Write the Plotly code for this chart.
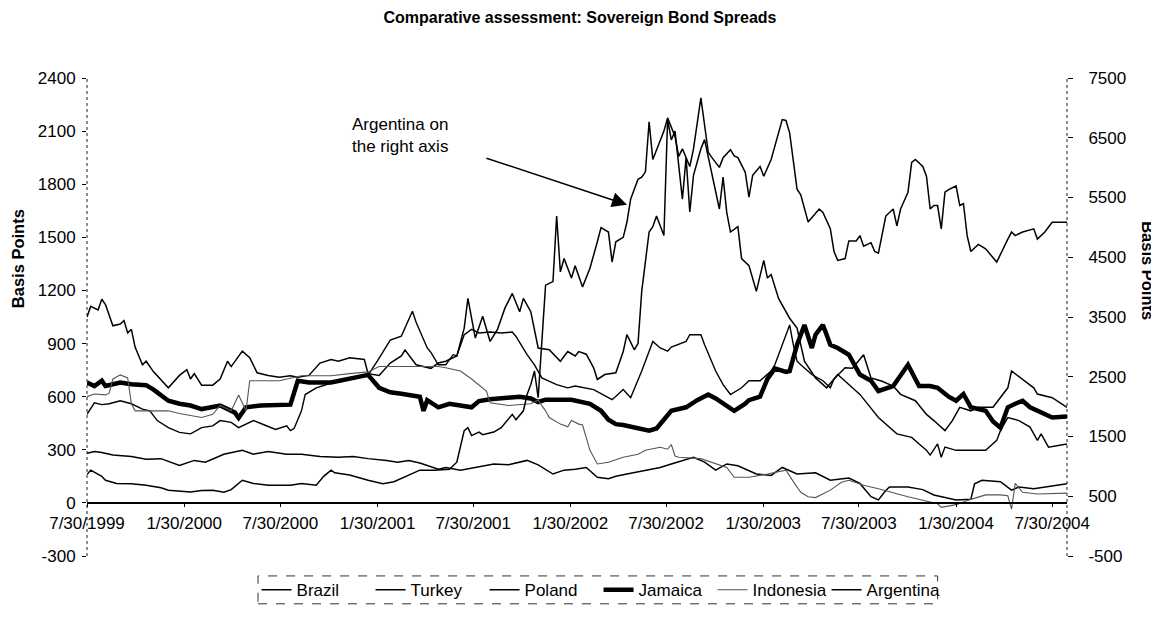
import numpy as np
import pandas as pd
import plotly.graph_objects as go

# ---- data: weekly observations, week index counted from 30 Jul 1999 ----
start_date = "1999-07-30"

brazil_week = [0,1,3,4,5,7,9,10,11,12,13,15,16,18,22,24,25,27,28,29,31,34,36,38,39,42,44,46,49,52,
               55,57,60,63,66,68,71,75,76,79,82,85,86,89,93,95,97,100,102,103,104,105,107,109,111,113,115,117,118,120,
               122,125,128,130,132,133,135,137,138,140,143,145,146,148,149,150,152,153,154,156,157,158,159,160,161,162,163,164,166,167,
               168,169,170,171,172,173,174,176,177,179,181,183,184,185,187,190,192,193,194,197,200,202,205,207,210,212,215,218,220,224,
               227,229,232,234,236,239,241,245,249,250,253,256,257,261,265]
brazil_bp = [1050,1110,1090,1150,1120,1000,1010,1030,960,980,880,780,800,740,650,700,720,752,700,730,
             665,665,700,800,770,857,820,735,720,710,718,710,720,790,810,800,820,810,730,720,
             790,830,863,780,760,790,800,830,987,1155,1043,931,1054,912,980,1100,1183,1080,1155,1080,
             875,865,800,855,830,855,840,763,697,725,735,855,950,865,900,1195,1530,1560,1620,1510,
             2165,2050,2100,1900,1716,1950,1643,1850,2000,2052,1950,1867,1755,1660,1840,1640,1530,1560,1380,1340,
             1195,1370,1270,1290,1155,1043,987,892,800,706,650,700,763,760,837,706,687,660,613,577,
             500,465,408,465,540,520,540,540,650,745,700,650,615,594,540]

turkey_week = [0,2,4,6,9,12,15,17,19,22,25,28,31,34,36,39,41,45,48,51,54,55,56,58,59,62,65,68,72,76,
               79,82,85,88,89,92,93,95,97,99,100,102,104,106,109,112,115,116,119,121,123,127,130,132,137,141,142,145,147,150,
               153,155,157,158,162,163,166,167,170,172,174,177,179,182,185,186,189,190,191,192,193,196,199,201,202,203,209,214,219,223,
               225,227,228,230,231,232,235,239,243,246,247,249,252,255,257,258,260,265]
turkey_bp = [500,565,555,560,577,560,530,520,465,425,398,390,425,435,465,455,425,465,440,415,
             435,408,420,520,612,650,670,690,700,720,818,920,942,1082,1020,875,850,780,780,837,
             830,950,980,960,965,960,965,940,837,780,706,668,650,660,640,594,583,640,594,745,
             912,875,857,880,912,950,950,893,745,668,612,650,690,690,745,780,950,1005,893,800,
             780,725,690,650,700,725,613,482,390,370,333,297,270,333,258,315,297,297,297,353,
             408,482,465,428,353,390,315,333]

poland_week = [0,2,4,7,12,16,20,22,25,29,32,37,42,45,49,54,58,63,68,72,76,81,84,87,90,95,97,101,105,110,
               114,119,122,126,129,132,135,138,141,143,146,151,155,158,161,164,167,170,173,176,
               181,185,188,192,197,201,206,209,212,214,216,217,222,226,229,232,235,239,240,242,247,250,252,256,259,265]
poland_bp = [280,290,285,270,262,247,250,235,212,240,230,275,297,275,290,275,275,262,258,262,
             250,240,230,240,225,190,200,185,200,220,215,240,215,163,185,190,200,145,137,150,
             163,185,200,220,240,258,230,185,220,210,163,155,200,163,170,128,140,110,35,17,
             70,90,90,75,45,30,17,20,108,128,120,72,90,80,90,108]

jamaica_week = [0,2,4,5,7,9,12,16,18,22,25,28,31,33,36,38,40,41,43,47,52,55,57,60,66,71,76,79,82,85,
                90,91,92,95,98,104,106,109,114,117,120,122,124,131,136,139,141,143,145,149,
                152,154,156,158,160,162,165,168,170,172,175,178,179,182,184,186,189,190,192,194,
                195,196,197,199,200,201,203,206,209,212,214,218,220,222,224,225,228,230,233,235,
                237,239,243,245,247,248,249,251,253,255,257,259,261,265]
jamaica_bp = [680,660,690,660,670,680,670,665,640,577,560,550,530,540,550,530,510,480,540,550,
              550,555,690,680,680,700,723,650,625,617,600,520,580,540,560,540,575,585,594,600,
              590,570,583,583,560,520,470,445,440,425,408,420,470,520,530,540,580,612,590,563,
              520,560,580,600,700,760,740,745,893,1005,930,875,950,1005,950,893,875,837,725,690,
              632,660,720,780,700,660,660,650,600,577,615,540,520,460,425,480,540,560,577,540,
              520,500,482,488]

indonesia_week = [0,2,5,6,7,9,11,12,13,16,22,25,31,34,36,39,41,43,44,47,52,58,66,71,76,79,85,95,97,101,
                  104,108,109,114,120,122,124,125,128,130,131,133,134,136,138,141,145,149,151,155,
                  157,158,159,160,166,170,173,175,179,184,189,191,193,195,197,201,204,206,210,214,
                  222,230,231,235,239,243,247,249,250,251,253,257,265]
indonesia_bp = [600,615,610,620,700,723,706,560,520,520,520,505,482,500,550,520,610,520,690,690,
                690,718,718,730,740,770,770,770,763,745,700,632,565,550,560,580,520,482,445,430,
                465,445,440,297,220,230,258,275,297,314,303,330,265,258,250,220,200,145,145,163,
                185,120,60,35,30,72,117,128,100,80,35,-5,-25,-10,20,45,45,40,-35,110,
                60,50,55]

argentina_week = [0,1,4,5,8,12,16,20,22,28,31,34,37,39,42,45,49,55,58,62,64,66,67,71,76,80,83,87,90,94,
                  98,100,102,103,104,106,107,110,112,115,116,118,119,120,121,122,124,126,127,128,
                  129,131,132,134,136,138,139,141,142,143,145,146,147,149,150,151,152,153,155,156,
                  157,158,159,160,161,163,164,166,167,168,169,171,172,174,175,176,178,179,180,182,
                  183,185,188,189,190,192,193,195,198,199,201,202,203,205,206,208,209,210,212,213,
                  214,216,218,219,220,222,223,224,226,227,228,229,230,231,232,233,235,236,237,238,
                  239,241,243,246,249,250,251,253,256,257,259,261,265]
argentina_bp = [863,937,833,768,715,709,685,641,602,573,596,602,567,611,768,715,685,685,715,685,
                833,937,893,854,768,709,744,854,937,937,952,1070,1598,1648,1515,1574,1530,1574,1648,1870,
                1782,1930,2202,2368,2596,2149,4033,4093,5189,4256,4478,4152,4359,4004,4315,4759,4996,4922,4419,4759,
                4833,5085,5470,5805,5841,5930,6768,6137,6469,6611,6833,6670,6522,6188,6315,6019,6315,7168,6700,6256,
                6167,6004,6167,6300,6196,6167,5921,5506,5870,6019,5856,6137,6804,6789,6582,5639,5545,5091,5307,5248,
                4976,4596,4448,4478,4774,4774,4863,4685,4744,4596,4567,5189,5307,5026,5307,5589,6087,6137,6019,5856,
                5307,5366,5366,4976,5589,5633,5693,5366,5396,4863,4596,4715,4641,4419,4804,4922,4863,4922,4976,4804,
                4922,5085,5085]

tick_dates = ["1999-07-30","2000-01-30","2000-07-30","2001-01-30","2001-07-30","2002-01-30",
              "2002-07-30","2003-01-30","2003-07-30","2004-01-30","2004-07-30"]
tick_labels = ["7/30/1999","1/30/2000","7/30/2000","1/30/2001","7/30/2001","1/30/2002",
               "7/30/2002","1/30/2003","7/30/2003","1/30/2004","7/30/2004"]
left_ticks = [-300, 0, 300, 600, 900, 1200, 1500, 1800, 2100, 2400]
right_ticks = [-500, 500, 1500, 2500, 3500, 4500, 5500, 6500, 7500]

def to_dates(weeks):
    return pd.Timestamp(start_date) + pd.to_timedelta(np.array(weeks) * 7, unit="D")

FONT = "Arial, Liberation Sans, sans-serif"
fig = go.Figure()

series = [
    ("Brazil", brazil_week, brazil_bp, "black", 1.5, "y"),
    ("Turkey", turkey_week, turkey_bp, "black", 1.4, "y"),
    ("Poland", poland_week, poland_bp, "black", 1.5, "y"),
    ("Jamaica", jamaica_week, jamaica_bp, "black", 4.5, "y"),
    ("Indonesia", indonesia_week, indonesia_bp, "#555555", 1.1, "y"),
    ("Argentina", argentina_week, argentina_bp, "black", 1.5, "y2"),
]
for name, wk, vals, col, w, ax in series:
    fig.add_trace(go.Scatter(x=to_dates(wk), y=vals, name=name, mode="lines",
                             line=dict(color=col, width=w), yaxis=ax))

end_date = to_dates([265])[0]

# the page body has an 8px margin, so the figure is sized to fit the window
W, H = 1151, 612
fig.update_layout(
    width=W, height=H,
    margin=dict(l=79, r=92, t=70, b=62, pad=0),
    paper_bgcolor="white", plot_bgcolor="white",
    font=dict(family=FONT, size=17, color="black"),
    title=dict(text="<b>Comparative assessment: Sovereign Bond Spreads</b>",
               x=(580 - 8) / W, xanchor="center", y=1 - 9 / H, yanchor="middle", yref="container",
               font=dict(size=16, family=FONT)),
    xaxis=dict(type="date", range=[start_date, end_date], anchor="free", position=300 / 2700,
               showline=True, linecolor="black", linewidth=2, showgrid=False, zeroline=False,
               ticks="outside", ticklen=3, tickcolor="black", ticklabelstandoff=2,
               tickvals=tick_dates, ticktext=tick_labels, tickfont=dict(size=17)),
    yaxis=dict(range=[-300, 2400], tickvals=left_ticks, ticktext=[str(v) for v in left_ticks],
               showgrid=False, zeroline=False,
               showline=False, ticks="outside", ticklen=4, tickcolor="black",
               ticklabelstandoff=3, tickfont=dict(size=17)),
    yaxis2=dict(range=[-500, 7500], tickvals=right_ticks, ticktext=[str(v) for v in right_ticks],
                overlaying="y", side="right",
                showgrid=False, zeroline=False, showline=False, ticks="outside", ticklen=5,
                tickcolor="black", ticklabelstandoff=12, tickfont=dict(size=17)),
    legend=dict(orientation="h", x=0.522, xanchor="center", y=-0.034, yanchor="top",
                font=dict(size=17), bgcolor="rgba(0,0,0,0)", borderwidth=0,
                entrywidthmode="pixels", entrywidth=69),
    showlegend=True,
)

# dotted vertical axis lines
for xp in (0, 1):
    fig.add_shape(type="line", xref="paper", yref="paper", x0=xp, x1=xp, y0=0, y1=1,
                  line=dict(color="#444444", width=1.2, dash="dot"), layer="below")

# dashed legend frame
fig.add_shape(type="rect", xref="paper", yref="paper", x0=0.1745, x1=0.868, y0=-0.1, y1=-0.0417,
              line=dict(color="#333333", width=1, dash="dash"))

# axis titles
fig.add_annotation(text="<b>Basis Points</b>", xref="paper", yref="paper", x=-0.0704, y=0.621,
                   textangle=-90, showarrow=False, font=dict(size=16.5), xanchor="center", yanchor="middle")
fig.add_annotation(text="<b>Basis Points</b>", xref="paper", yref="paper", x=1.0826, y=0.596,
                   textangle=90, showarrow=False, font=dict(size=16.5), xanchor="center", yanchor="middle")

# annotation with arrow
fig.add_annotation(text="Argentina on<br>the right axis", xref="paper", yref="paper",
                   x=0.268, y=0.927, xanchor="left", yanchor="top", align="left",
                   showarrow=False, font=dict(size=17))
fig.add_annotation(text="", xref="paper", yref="paper", x=0.551, y=0.735,
                   ax=-142, ay=-47, showarrow=True, arrowhead=2, arrowsize=2,
                   arrowwidth=1.5, arrowcolor="black")

fig.write_html("out.html")
